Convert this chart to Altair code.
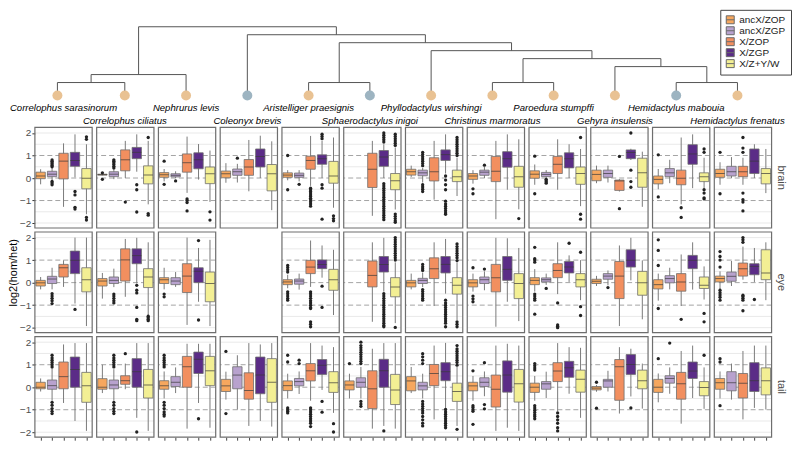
import altair as alt
import pandas as pd

SPECIES = ["Correlophus sarasinorum", "Correlophus ciliatus", "Nephrurus levis",
           "Coleonyx brevis", "Aristelliger praesignis", "Sphaerodactylus inigoi",
           "Phyllodactylus wirshingi", "Christinus marmoratus", "Paroedura stumpffi",
           "Gehyra insulensis", "Hemidactylus mabouia", "Hemidactylus frenatus"]
TISSUES = ["brain", "eye", "tail"]
GROUPS = ["ancX/ZOP", "ancX/ZGP", "X/ZOP", "X/ZGP", "X/Z+Y/W"]
COLORS = ["#F6A75E", "#B8A2CE", "#F28F5F", "#5B2C87", "#F3EF94"]
Y_TITLE = "log2(hom/het)"

# tree: tip colour, tip position (panel units), internal nodes (name, child, child, level)
TIP_COLOR = ["#E9C293", "#E9C293", "#E9C293", "#9DB4C1", "#E9C293", "#9DB4C1",
             "#E9C293", "#E9C293", "#E9C293", "#E9C293", "#9DB4C1", "#E9C293"]
TIP_POS = [-0.1, 1, 2, 3, 4, 5, 6, 7, 8, 9, 10, 11]
TIP_LEVEL = 8.625
NODES = [("n_c", 0, 1, 7), ("n_left", "n_c", 2, 6), ("n_as", 4, 5, 7), ("n_cp", 7, 8, 7),
         ("n_hh", 10, 11, 7), ("n_g", 9, "n_hh", 5), ("n_4", "n_cp", "n_g", 4),
         ("n_3", 6, "n_4", 3), ("n_2", "n_as", "n_3", 2), ("n_1", 3, "n_2", 1),
         ("root", "n_left", "n_1", 0)]

# box statistics per species: (low whisker, q1, median, q3, high whisker) per group
BRAIN = [
    [(-0.28, -0.03, 0.09, 0.26, 0.39), (-0.10, 0.06, 0.17, 0.30, 0.45), (-1.28, -0.04, 0.75, 1.10, 1.54), (0.03, 0.52, 0.78, 1.14, 1.94), (-1.61, -0.48, -0.01, 0.42, 1.50)],
    [(0.12, 0.13, 0.15, 0.17, 0.18), (-0.05, 0.06, 0.17, 0.28, 0.40), (0.00, 0.32, 0.81, 1.25, 1.65), (0.28, 0.86, 1.14, 1.36, 1.94), (-1.17, -0.26, 0.13, 0.54, 1.65)],
    [(-0.15, 0.03, 0.14, 0.24, 0.40), (0.00, 0.05, 0.12, 0.19, 0.30), (-0.66, 0.26, 0.68, 1.07, 1.84), (-0.07, 0.41, 0.81, 1.12, 1.51), (-1.06, -0.25, 0.19, 0.49, 1.22)],
    [(-0.21, 0.01, 0.19, 0.31, 0.66), (-0.20, 0.12, 0.28, 0.40, 0.63), (-0.59, 0.12, 0.49, 0.82, 1.69), (0.00, 0.49, 0.96, 1.29, 1.88), (-1.43, -0.57, 0.19, 0.60, 1.63)],
    [(-0.10, 0.03, 0.13, 0.23, 0.35), (-0.15, 0.03, 0.12, 0.22, 0.35), (-0.35, 0.39, 0.78, 0.97, 1.87), (0.00, 0.61, 0.86, 1.03, 1.65), (-1.32, -0.23, 0.09, 0.74, 1.80)],
    [None, None, (-1.68, -0.42, 0.39, 1.10, 1.65), (0.00, 0.52, 0.93, 1.22, 1.50), (-1.40, -0.52, -0.12, 0.20, 1.36)],
    [(0.05, 0.13, 0.28, 0.39, 0.55), (-0.20, 0.10, 0.23, 0.35, 0.45), (-0.96, -0.13, 0.28, 0.90, 1.65), (0.20, 0.78, 1.04, 1.25, 1.94), (-0.80, -0.16, 0.06, 0.35, 0.90)],
    [(-0.25, -0.06, 0.09, 0.20, 0.35), (0.00, 0.12, 0.26, 0.35, 0.50), (-1.83, -0.16, 0.30, 0.96, 1.65), (-0.52, 0.48, 0.86, 1.17, 1.94), (-1.39, -0.41, 0.06, 0.52, 1.72)],
    [(-0.30, -0.01, 0.17, 0.32, 0.60), (0.00, 0.06, 0.16, 0.25, 0.35), (-0.52, 0.20, 0.61, 0.96, 1.72), (0.00, 0.45, 0.86, 1.12, 1.50), (-1.25, -0.28, 0.20, 0.49, 1.29)],
    [(-0.23, -0.12, 0.16, 0.35, 0.55), (-0.20, 0.03, 0.20, 0.35, 0.55), (-0.60, -0.55, -0.13, -0.09, -0.05), (0.80, 0.86, 1.13, 1.25, 1.30), (-1.28, -0.41, 0.23, 0.88, 1.17)],
    [(-0.50, -0.26, -0.06, 0.09, 0.40), (-0.23, 0.06, 0.23, 0.42, 0.81), (-1.17, -0.30, -0.01, 0.35, 1.80), (-0.45, 0.61, 1.07, 1.48, 1.94), (-0.45, -0.16, 0.06, 0.23, 0.90)],
    [(-0.30, 0.03, 0.20, 0.39, 0.70), (0.00, 0.09, 0.28, 0.52, 0.93), (-0.30, 0.06, 0.28, 0.52, 0.90), (0.00, 0.20, 0.75, 1.29, 1.50), (-0.67, -0.26, 0.20, 0.42, 1.29)],
]
EYE = [
    [(-0.30, -0.15, -0.01, 0.10, 0.25), (-0.30, -0.04, 0.16, 0.28, 0.66), (-0.19, 0.25, 0.66, 0.81, 0.99), (-0.93, 0.40, 0.99, 1.40, 2.00), (-1.93, -0.41, 0.13, 0.66, 2.00)],
    [(-0.71, -0.15, 0.07, 0.18, 0.43), (-0.20, -0.04, 0.10, 0.25, 0.62), (-0.63, 0.07, 1.01, 1.50, 1.94), (-0.04, 0.84, 1.20, 1.50, 1.99), (-1.44, -0.22, 0.25, 0.62, 1.79)],
    [(-0.30, -0.04, 0.13, 0.22, 0.66), (-0.19, -0.09, 0.07, 0.22, 0.47), (-1.88, -0.44, 0.29, 0.84, 2.00), (-0.85, 0.00, 0.51, 0.66, 1.54), (-1.93, -0.85, -0.04, 0.47, 1.90)],
    [None, None, None, None, None],
    [(-0.25, -0.09, 0.03, 0.13, 0.35), (-0.31, -0.07, 0.07, 0.16, 0.40), (-0.19, 0.40, 0.69, 0.99, 1.87), (0.22, 0.62, 0.81, 1.01, 1.65), (-1.44, -0.34, 0.13, 0.59, 1.46)],
    [None, None, (-1.74, -0.19, 0.32, 0.96, 1.79), (-0.40, 0.47, 0.81, 1.16, 1.99), (-1.80, -0.63, -0.19, 0.22, 0.90)],
    [(-0.30, -0.19, -0.01, 0.10, 0.40), (-0.20, -0.04, 0.10, 0.19, 0.45), (-1.04, 0.18, 0.62, 1.10, 1.79), (-0.49, 0.43, 0.81, 1.16, 1.94), (-1.66, -0.51, -0.12, 0.22, 0.90)],
    [(-0.40, -0.19, -0.01, 0.13, 0.40), (-0.34, -0.04, 0.13, 0.25, 0.50), (-1.96, -0.41, 0.22, 0.81, 1.99), (-0.85, 0.10, 0.59, 1.16, 1.97), (-1.71, -0.71, -0.04, 0.40, 1.54)],
    [(-0.40, -0.09, 0.10, 0.22, 0.60), (-0.10, 0.03, 0.13, 0.21, 0.40), (-0.51, 0.22, 0.54, 0.84, 1.79), (0.03, 0.43, 0.69, 0.94, 1.21), (-0.78, -0.19, 0.13, 0.40, 1.00)],
    [(-0.15, -0.04, 0.06, 0.15, 0.30), (-0.12, 0.15, 0.29, 0.40, 0.54), (-1.93, -0.71, 0.29, 0.94, 1.65), (0.10, 0.69, 0.99, 1.46, 1.99), (-1.63, -0.56, -0.01, 0.50, 0.99)],
    [(-0.80, -0.28, -0.09, 0.13, 0.40), (-0.30, -0.01, 0.18, 0.31, 0.66), (-1.04, -0.38, 0.03, 0.40, 1.25), (-0.31, 0.62, 0.99, 1.21, 1.79), (-0.75, -0.26, -0.12, 0.25, 0.72)],
    [(-0.30, 0.03, 0.18, 0.29, 0.50), (-0.15, 0.06, 0.28, 0.47, 0.96), (0.13, 0.29, 0.62, 0.87, 1.60), (0.03, 0.35, 0.72, 0.84, 1.54), (-0.78, 0.13, 0.43, 1.46, 1.79)],
]
TAIL = [
    [(-0.19, -0.07, 0.00, 0.22, 0.39), (-0.60, -0.09, 0.07, 0.32, 0.85), (-0.70, -0.07, 0.47, 1.12, 1.90), (-1.50, 0.00, 0.79, 1.34, 1.96), (-1.94, -0.67, 0.06, 0.66, 1.96)],
    [(-0.26, -0.09, 0.00, 0.38, 1.00), (-0.60, -0.07, 0.10, 0.32, 0.80), (-0.09, 0.13, 0.29, 0.51, 1.05), (-1.36, 0.00, 0.69, 1.27, 1.96), (-1.94, -0.48, 0.10, 0.79, 1.96)],
    [(-0.50, -0.09, 0.06, 0.29, 0.70), (-0.26, 0.03, 0.22, 0.47, 0.88), (-1.84, 0.00, 0.91, 1.37, 1.93), (-0.70, 0.61, 1.24, 1.56, 1.93), (-1.80, 0.07, 0.73, 1.37, 1.93)],
    [(-0.55, -0.19, 0.06, 0.35, 0.69), (-0.99, -0.07, 0.54, 0.91, 1.42), (-1.72, -0.53, -0.15, 0.64, 1.96), (-1.50, -0.29, 0.54, 1.34, 1.90), (-1.75, -0.67, 0.22, 1.27, 1.96)],
    [(-0.50, -0.15, 0.07, 0.28, 0.60), (-0.30, 0.06, 0.25, 0.39, 0.70), (-0.60, 0.28, 0.73, 1.05, 1.96), (-0.12, 0.57, 0.98, 1.23, 1.85), (-1.14, -0.23, 0.20, 0.69, 1.78)],
    [(-0.50, -0.12, 0.10, 0.28, 0.60), (-0.50, 0.00, 0.22, 0.42, 0.90), (-1.84, -0.95, -0.07, 0.73, 1.71), (-1.72, 0.00, 0.73, 1.24, 1.96), (-1.84, -0.77, -0.12, 0.57, 1.96)],
    [(-0.26, -0.16, 0.28, 0.47, 0.90), (-0.50, -0.12, 0.06, 0.22, 0.60), (-1.43, 0.07, 0.61, 1.01, 1.85), (-0.92, 0.29, 0.69, 1.09, 1.97), (-1.72, -0.63, -0.19, 0.18, 0.90)],
    [(-0.60, -0.16, 0.06, 0.22, 0.50), (-0.40, 0.03, 0.22, 0.42, 0.70), (-1.94, -0.88, -0.09, 0.54, 1.85), (-1.80, -0.22, 0.54, 1.17, 1.93), (-1.94, -0.66, 0.15, 0.79, 1.85)],
    [(-0.60, -0.23, 0.00, 0.18, 0.50), (-0.48, -0.09, 0.15, 0.25, 0.69), (-1.07, 0.25, 0.72, 1.09, 1.96), (-0.29, 0.44, 0.86, 1.15, 1.78), (-1.36, -0.22, 0.35, 0.76, 1.75)],
    [(-0.20, -0.12, -0.04, 0.03, 0.10), (-0.19, 0.00, 0.28, 0.35, 0.73), (-1.17, -0.58, 0.91, 1.23, 1.78), (-0.41, 0.57, 1.01, 1.45, 1.71), (-0.95, -0.07, 0.29, 0.76, 1.05)],
    [(-0.67, -0.23, 0.00, 0.35, 0.61), (-0.29, 0.18, 0.39, 0.51, 0.88), (-1.62, -0.53, 0.15, 0.66, 1.61), (-0.48, 0.39, 0.72, 1.12, 1.85), (-0.96, -0.38, -0.01, 0.25, 0.88)],
    [(-0.50, -0.09, 0.20, 0.39, 0.70), (-0.55, -0.16, 0.20, 0.69, 1.05), (-1.43, -0.48, 0.18, 0.61, 1.61), (-0.92, -0.19, 0.29, 1.09, 1.85), (-0.99, -0.34, 0.29, 0.86, 1.85)],
]

# outliers per species, per group
BRAIN_OUT = [
    [[], [0.5, 0.56, 0.62, 0.68, 0.74, 0.8, -0.15, -0.22, -0.3], [], [-0.6, -0.75, -1.3, -1.38], [1.72, 1.83, -1.75, -1.87]],
    [[0.23, -0.06], [0.45, 0.52, 0.6, 0.68, 0.75, 0.81], [-1.07], [-0.3, -0.52, -1.51], [1.8, -1.58, -1.65]],
    [[0.75, -0.28], [-0.13], [-0.93, -1.0, -1.09, -1.46], [], [-1.5, -1.87]],
    [[], [0.88], [], [], []],
    [[1.0, -0.52], [-0.28], [-0.45, -0.52, -0.6, -0.67, -0.75, -0.82, -0.9, -0.96, -1.05, -1.15, -1.25], [1.75, 1.85, 1.95, -0.3, -0.45, -1.83], [-1.68, -1.8, -1.9]],
    [[], [], [], [1.6, 1.7, 1.8, 1.9, 2.0, -0.25, -0.35, -0.45, -0.55, -0.65, -0.75, -0.85, -0.95, -1.05, -1.15, -1.25, -1.35, -1.45, -1.55, -1.65, -1.75, -1.85], [1.45, 1.55, 1.65, 1.75, 1.85, 1.95, -1.6, -1.7, -1.8, -1.9, -1.97]],
    [[], [0.55, 0.65, 0.75, 0.85, 0.95, 1.05, 1.14, -0.3, -0.4, -0.5, -0.6], [], [0.09, -0.09, -0.3, -0.52, -1.03, -1.15, -1.25, -1.35, -1.45, -1.55, -1.61], [1.0, 1.1, 1.2, 1.3, 1.4, 1.5, 1.6, 1.7, 1.8]],
    [[-0.48, -0.7], [0.57], [], [], [-1.8]],
    [[0.97, -0.7], [-0.06, -0.12, -0.18, -0.23], [], [], [1.8, -1.61, -1.83]],
    [[], [], [0.96, -1.36], [2.0, 0.35, -0.16, -0.41], []],
    [[1.03, -0.84], [], [-1.32, -1.75], [], [1.14, 1.29, -0.52, -0.67, -0.88, -0.93]],
    [[1.14, -0.7], [], [1.14, 1.33, 1.8, -0.67, -0.96, -1.07, -1.46], [], []],
]
EYE_OUT = [
    [[], [-0.49, -0.6, -0.7, -0.8, -0.93], [], [-1.19], []],
    [[], [-0.51, -0.6, -0.7, -0.8, -0.9], [], [-0.12, -0.34, -0.46, -1.1, -1.63, -1.69], [-1.49, -1.56, -1.63, -1.69]],
    [[-0.51, -0.63], [], [], [1.87, -1.66], []],
    [[], [], [], [], []],
    [[0.47, 0.57, 0.67, 0.76, -0.41, -0.5, -0.6, -0.7, -0.78], [], [-0.41, -0.5, -0.6, -0.7, -0.8, -0.9, -1.0, -1.1, -1.15, -1.74, -1.85, -1.96], [-0.16, -1.1], []],
    [[], [], [], [-0.49, -0.6, -0.7, -0.8, -0.9, -1.0, -1.1, -1.2, -1.3, -1.4, -1.5, -1.6, -1.7, -1.8, -1.9, -1.96], [1.0, 1.1, 1.2, 1.3, 1.4, 1.5, 1.6, 1.7, 1.8, 1.9, 2.0, -1.99]],
    [[], [0.54, 0.62, 0.7, 0.81, -0.31, -0.4, -0.5, -0.6, -0.7, -0.78], [], [-0.78, -0.9, -1.0, -1.1, -1.2, -1.3, -1.4, -1.5, -1.6, -1.7, -1.8, -1.96], [0.98, 1.1, 1.2, 1.3, 1.4, 1.5, 1.6, 1.72, -1.74, -1.85, -1.96]],
    [[0.66, -0.6, -0.72, -0.85], [0.6], [], [], []],
    [[0.91, 1.0, 1.06, 1.57, -0.51, -0.6, -0.7, -0.78, -1.4], [-0.26], [-0.9, -1.88, -1.94, -2.0], [1.75], [1.35, -1.07, -1.46]],
    [[], [-0.22], [], [], []],
    [[0.76, 1.43, 1.9, -1.15], [], [-1.63], [], [-1.37, -1.74]],
    [[0.69, 1.0, 1.16, 1.38, -0.34, -0.45, -0.55, -0.65, -0.78], [], [1.79, 1.9, 2.0, -0.56, -0.62, -0.7, -0.78, -1.25], [-0.75], []],
]
TAIL_OUT = [
    [[], [0.9, 1.0, 1.1, 1.2, 1.3, 1.42, -0.67, -0.8, -0.95, -1.07, -1.17], [], [], []],
    [[], [0.9, 1.0, 1.1, 1.2, 1.3, 1.42, -0.67, -0.8, -0.95, -1.07, -1.17], [1.49], [-1.99], []],
    [[0.9, 1.0, 1.1, 1.2, 1.3, 1.42, -0.67, -0.8, -0.95, -1.1, -1.2, -1.28], [], [], [-1.4], []],
    [[1.59, -1.17], [], [], [], []],
    [[1.12, 1.42, -0.92, -1.0, -1.07, -1.14], [1.05, 1.2], [-0.92, -1.0, -1.1, -1.2, -1.3, -1.4, -1.5, -1.6, -1.75], [-0.63, -1.11], [-1.62, -1.99]],
    [[1.05], [1.05, 1.15, 1.25, 1.35, 1.45, 1.55, 1.65, 1.75, 1.85, 2.0, -0.63, -0.75, -0.85], [], [-1.94], []],
    [[], [1.05, 1.2, 1.35, 1.49, -0.63, -0.75, -0.85, -0.95, -1.05, -1.15, -1.3, -1.45, -1.6, -1.72], [], [-0.99, -1.1, -1.2, -1.3, -1.4, -1.5, -1.6, -1.7, -1.8], [0.98, 1.1, 1.2, 1.3, 1.4, 1.5, 1.6, 1.7, 1.85, -1.87]],
    [[0.73, -0.82, -0.9, -1.0, -1.07, -1.65], [1.09, -0.77, -0.96], [], [], []],
    [[0.76, 0.85, 0.95, 1.05, -0.82, -0.92, -1.02, -1.12, -1.22, -1.3, -1.4], [], [-1.14, -1.3, -1.45, -1.6, -1.8, -1.94], [], []],
    [[0.22, -0.93], [], [], [-0.92], []],
    [[1.27], [1.96], [], [], [1.42]],
    [[1.12, 1.27, -0.82], [], [], [], []],
]

GRID_LIGHT = [-2, -1.5, -0.5, 0.5, 1.5, 2]
GRID_DASH = [-1, 0, 1]
Y_TICKS = [-2, -1, 0, 1, 2]
Y_DOMAIN = [-2.22, 2.25]

PANEL_W = 57.5
PANEL_H = 101
GAP = 4
PITCH = PANEL_W + GAP
NG = len(GROUPS)
X_DOMAIN = [-0.5, NG - 0.5]
PX_PER_X = PANEL_W / NG                                 # px per group slot
PX_PER_Y = PANEL_H / (Y_DOMAIN[1] - Y_DOMAIN[0])        # px per log2 unit
LEVEL_PX = 8                                            # tree level spacing
TREE_TOP_PX = -PANEL_H                                  # root level above the grid


def tree_x(p):
    # panel position -> shared x scale units (panel 0 centre = middle slot)
    return (NG - 1) / 2 + p * PITCH / PX_PER_X


def tree_y(level):
    # tree level -> shared y scale units, placed above the brain row
    px = TREE_TOP_PX + LEVEL_PX * level
    return Y_DOMAIN[1] - px / PX_PER_Y


# ---------------- one long table ----------------
rows = []
for tissue, stats, outs in zip(TISSUES, [BRAIN, EYE, TAIL], [BRAIN_OUT, EYE_OUT, TAIL_OUT]):
    for i, sp in enumerate(SPECIES):
        if not any(s is not None for s in stats[i]):
            rows.append(dict(kind="empty", species=sp, tissue=tissue))
            continue
        rows.append(dict(kind="frame", species=sp, tissue=tissue))
        for g in GRID_LIGHT:
            rows.append(dict(kind="glight", species=sp, tissue=tissue, gy=g))
        for g in GRID_DASH:
            rows.append(dict(kind="gdash", species=sp, tissue=tissue, gy=g))
        for j, grp in enumerate(GROUPS):
            s = stats[i][j]
            if s is not None:
                lo, q1, med, q3, hi = s
                rows.append(dict(kind="box", species=sp, tissue=tissue, group=grp, gi=j,
                                 lo=lo, q1=q1, med=med, q3=q3, hi=hi))
            for v in outs[i][j]:
                rows.append(dict(kind="out", species=sp, tissue=tissue, group=grp, gi=j, value=v))

rows.append(dict(kind="ytitle", species=SPECIES[0], tissue="eye", name=Y_TITLE))

# tree, drawn from the first brain panel upward through the shared scales
pos = {i: (TIP_POS[i], TIP_LEVEL) for i in range(len(SPECIES))}
for name, a, b, lev in NODES:
    xa, ya = pos[a]
    xb, yb = pos[b]
    for seg in [(xa, xb, lev, lev), (xa, xa, lev, ya), (xb, xb, lev, yb)]:
        rows.append(dict(kind="seg", species=SPECIES[0], tissue="brain",
                         tx=tree_x(seg[0]), tx2=tree_x(seg[1]),
                         ty=tree_y(seg[2]), ty2=tree_y(seg[3])))
    pos[name] = ((xa + xb) / 2, lev)
for i, sp in enumerate(SPECIES):
    rows.append(dict(kind="tip", species=SPECIES[0], tissue="brain",
                     tx=tree_x(TIP_POS[i]), ty=tree_y(TIP_LEVEL), col=TIP_COLOR[i]))
    rows.append(dict(kind="lab%d" % (i % 2), species=SPECIES[0], tissue="brain",
                     tx=tree_x(i), ty=tree_y(TIP_LEVEL), name=sp))
df = pd.DataFrame(rows)

# ---------------- shared scales / axes ----------------
YSC = alt.Scale(domain=Y_DOMAIN, nice=False, zero=False, padding=0)
YAX = alt.Axis(values=Y_TICKS, format="d", grid=False, domain=False, ticks=True, tickSize=3,
               tickColor="#333333", labelColor="#4d4d4d", labelFontSize=10, labelPadding=1,
               title=None)
XSC = alt.Scale(domain=X_DOMAIN, nice=False, zero=False, padding=0)
XAX = alt.Axis(values=list(range(NG)), labels=False, ticks=True, domain=False, tickSize=3,
               tickColor="#444444", grid=False, title=None)


def Y(f):
    return alt.Y(f, scale=YSC, axis=YAX, title=None)


def X(f):
    return alt.X(f, scale=XSC, axis=XAX, title=None)


base = alt.Chart()
glight = base.mark_rule(color="#e9e9e9", strokeWidth=1).encode(
    y=Y("gy:Q")).transform_filter(alt.datum.kind == "glight")
gdash = base.mark_rule(color="#9a9a9a", strokeWidth=0.9, strokeDash=[5, 3]).encode(
    y=Y("gy:Q")).transform_filter(alt.datum.kind == "gdash")
whisk = base.mark_rule(color="#7a7a7a", strokeWidth=1).encode(
    x=X("gi:Q"), y=Y("lo:Q"), y2="hi:Q").transform_filter(alt.datum.kind == "box")
boxes = base.mark_bar(stroke="#6f6f6f", strokeWidth=0.8, size=9.4).encode(
    x=X("gi:Q"), y=Y("q1:Q"), y2="q3:Q",
    color=alt.Color("group:N", scale=alt.Scale(domain=GROUPS, range=COLORS),
                    legend=alt.Legend(title=None, orient="none", legendX=688, legendY=-118,
                                      symbolType="M-1,-1H1V1H-1Z M-1,0H1", symbolSize=64,
                                      symbolStrokeColor="#6a6a6a", symbolStrokeWidth=1,
                                      labelFontSize=10, labelColor="#222222",
                                      strokeColor="#444444", fillColor="white",
                                      padding=5, rowPadding=-1))
).transform_filter(alt.datum.kind == "box")
meds = base.mark_tick(color="#3a3a3a", thickness=1, size=9.4, orient="horizontal").encode(
    x=X("gi:Q"), y=Y("med:Q")).transform_filter(alt.datum.kind == "box")
outs = base.mark_circle(color="#222222", size=11, opacity=1).encode(
    x=X("gi:Q"), y=Y("value:Q")).transform_filter(alt.datum.kind == "out")
frame = base.mark_rect(fill=None, stroke="#6e6e6e", strokeWidth=1.2).encode(
    x=alt.value(0), x2=alt.value("width"), y=alt.value(0), y2=alt.value("height")
).transform_filter(alt.datum.kind == "frame")
ytitle = base.mark_text(angle=270, fontSize=11, color="black").encode(
    x=alt.value(-21), y=alt.value(41), text="name:N"
).transform_filter(alt.datum.kind == "ytitle")

segs = base.mark_rule(color="#555555", strokeWidth=1).encode(
    x=X("tx:Q"), x2="tx2:Q", y=Y("ty:Q"), y2="ty2:Q").transform_filter(alt.datum.kind == "seg")
tips = base.mark_circle(size=100, opacity=1).encode(
    x=X("tx:Q"), y=Y("ty:Q"), color=alt.Color("col:N", scale=None)
).transform_filter(alt.datum.kind == "tip")
lab0 = base.mark_text(fontSize=9.6, fontStyle="italic", color="black", dy=13).encode(
    x=X("tx:Q"), y=Y("ty:Q"), text="name:N").transform_filter(alt.datum.kind == "lab0")
lab1 = base.mark_text(fontSize=9.6, fontStyle="italic", color="black", dy=26).encode(
    x=X("tx:Q"), y=Y("ty:Q"), text="name:N").transform_filter(alt.datum.kind == "lab1")

inner = alt.layer(glight, gdash, whisk, boxes, meds, outs, frame, ytitle,
                  segs, tips, lab0, lab1, data=df).properties(width=PANEL_W, height=PANEL_H)

chart = inner.facet(
    column=alt.Column("species:N", sort=SPECIES, title=None,
                      header=alt.Header(labels=False)),
    row=alt.Row("tissue:N", sort=TISSUES, title=None,
                header=alt.Header(labelOrient="right", labelAngle=90, labelFontSize=11,
                                  labelColor="#4d4d4d", labelPadding=4)),
    spacing=GAP,
).properties(
    bounds="flush", padding=0, background="white"
).configure(font="Liberation Sans").configure_view(stroke=None)

chart.save("out.html", embed_options={"renderer": "svg", "actions": False})
